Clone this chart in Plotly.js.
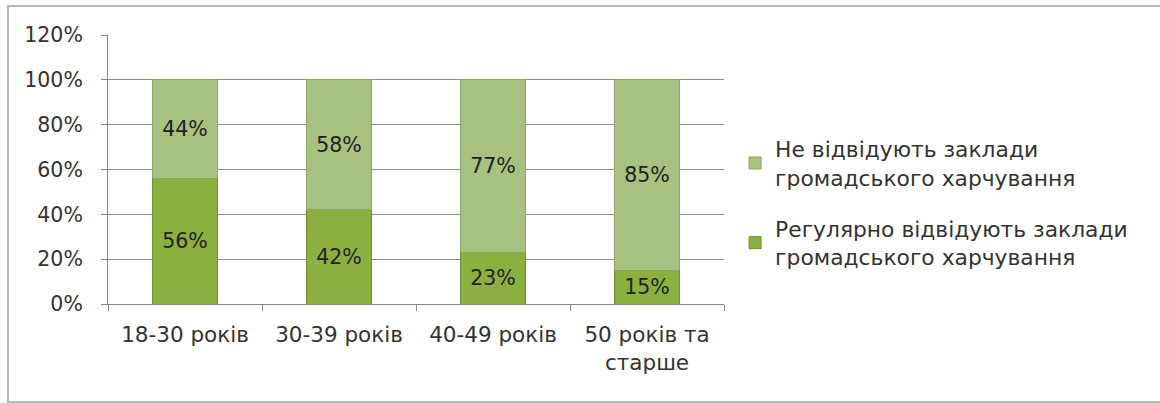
<!DOCTYPE html>
<html><head><meta charset="utf-8">
<script src="https://cdn.plot.ly/plotly-3.0.1.min.js"></script>
<style>html,body{margin:0;padding:0;background:#fff;}#chart{width:1160px;height:403px;}</style>
</head><body><div id="chart"></div>
<script>
const categories = ['18-30 років', '30-39 років', '40-49 років', '50 років та<br>старше'];
const regularVisit = [56, 42, 23, 15];
const noVisit = [44, 58, 77, 85];
const seriesNames = ['Регулярно відвідують заклади<br>громадського харчування', 'Не відвідують заклади<br>громадського харчування'];
const yTicks = [0, 20, 40, 60, 80, 100, 120];

const FAM = 'DejaVu Sans, sans-serif';
const FS = 20.5;
const font = {family: FAM, size: FS, color: '#333'};
const mk = (vals, name, color, line, grp, rank) => ({
  type: 'bar', x: categories, y: vals, name: name, legendgroup: grp, legendrank: rank,
  text: vals.map(v => v + '%'), textposition: 'inside', insidetextanchor: 'middle',
  textfont: {family: FAM, size: FS, color: '#222'},
  marker: {color: color, line: {color: line, width: 1}},
  hoverinfo: 'skip'
});
const data = [
  mk(regularVisit, seriesNames[0], '#8bb040', '#6f8f2e', 'reg', 2),
  mk(noVisit, seriesNames[1], '#a7c181', '#8ea56a', 'no', 1)
];
const layout = {
  width: 1160, height: 403,
  margin: {l: 108, r: 436, t: 35, b: 99},
  paper_bgcolor: '#fff', plot_bgcolor: '#fff',
  barmode: 'stack', bargap: 0.58,
  font: font,
  showlegend: true,
  legend: {x: 1.018, y: 0.375, yanchor: 'middle', xanchor: 'left', traceorder: 'grouped',
           font: {family: FAM, size: 21.8, color: '#333'}, itemwidth: 30, tracegroupgap: 20},
  xaxis: {type: 'category', showgrid: false, showline: true, linecolor: '#888', linewidth: 1,
          ticks: 'outside', ticklen: 6, tickcolor: '#888', tickson: 'boundaries', ticklabelstandoff: 11,
          tickfont: {family: FAM, size: 21.5, color: '#333'}, fixedrange: true},
  yaxis: {range: [0, 120], tickvals: yTicks, ticktext: yTicks.map(v => v + '%'),
          showgrid: true, gridcolor: '#8c8c8c', gridwidth: 1, zeroline: false,
          showline: true, linecolor: '#888', linewidth: 1, ticks: 'outside', ticklen: 6, tickcolor: '#888',
          tickfont: {family: FAM, size: FS, color: '#333'}, ticklabelstandoff: 14, fixedrange: true},
  shapes: [{type: 'rect', xref: 'paper', yref: 'paper', x0: (8-108)/616, x1: (1170-108)/616,
            y0: (304-402)/269, y1: (304-6)/269, line: {color: '#b8b8b8', width: 2}, fillcolor: 'rgba(0,0,0,0)', layer: 'below'}]
};
Plotly.newPlot('chart', data, layout, {displayModeBar: false, staticPlot: true});
</script></body></html>
